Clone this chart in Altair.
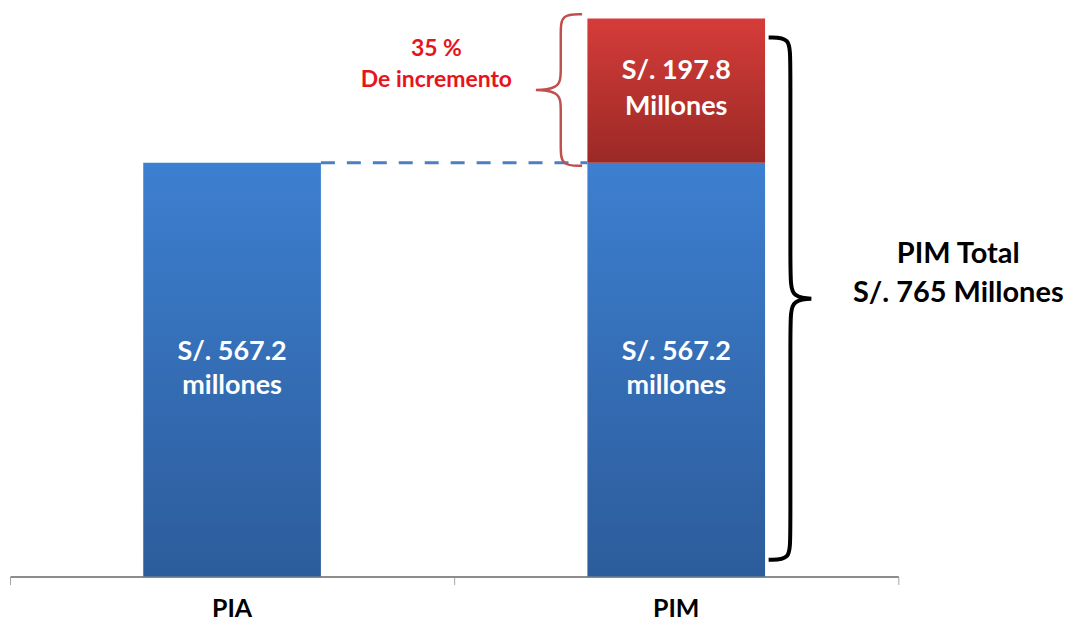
import altair as alt
import pandas as pd

# ---- data ----
categories = ["PIA", "PIM"]
base_values = [567.2, 567.2]
increase_values = [0.0, 197.8]
base_labels = ["S/. 567.2\nmillones", "S/. 567.2\nmillones"]
increase_labels = ["", "S/. 197.8\nMillones"]
increase_note = "35 %\nDe incremento"
total_note = "PIM Total\nS/. 765 Millones"

FONT = "Lato"
BLUE_TOP, BLUE_BOT = "#3d7fd0", "#2c5c9b"
RED_TOP, RED_BOT = "#d53c39", "#9b2926"

total = base_values[1] + increase_values[1]
pos = list(range(len(categories)))
half = 0.2

base_df = pd.DataFrame({
    "cat": categories, "pos": pos,
    "x1": [p - half for p in pos], "x2": [p + half for p in pos],
    "start": [0.0] * len(categories), "end": base_values,
    "mid": [v / 2 for v in base_values], "label": base_labels,
})
inc_df = pd.DataFrame({
    "cat": categories, "pos": pos,
    "x1": [p - half for p in pos], "x2": [p + half for p in pos],
    "start": base_values,
    "end": [b + i for b, i in zip(base_values, increase_values)],
    "mid": [b + i / 2 for b, i in zip(base_values, increase_values)],
    "label": increase_labels,
})
inc_df = inc_df[inc_df["end"] > inc_df["start"]]

xscale = alt.Scale(domain=[-0.5, 1.5], nice=False, zero=False)
yscale = alt.Scale(domain=[0, total], nice=False, zero=True)

X = alt.X("x1:Q", scale=xscale,
          axis=alt.Axis(values=[-0.5, 0.5, 1.5], labels=False, title=None, grid=False,
                        domainColor="#8c8c8c", domainWidth=2, tickColor="#a6a6a6",
                        tickWidth=1, tickSize=8))
Y = alt.Y("start:Q", scale=yscale, axis=None)


def grad(top, bot):
    return alt.Gradient(gradient="linear", x1=0, x2=0, y1=0, y2=1,
                        stops=[alt.GradientStop(offset=0, color=top),
                               alt.GradientStop(offset=1, color=bot)])


base_bars = alt.Chart(base_df).mark_bar(color=grad(BLUE_TOP, BLUE_BOT)).encode(
    x=X, x2="x2:Q", y=Y, y2="end:Q")
inc_bars = alt.Chart(inc_df).mark_bar(color=grad(RED_TOP, RED_BOT)).encode(
    x=alt.X("x1:Q", scale=xscale), x2="x2:Q", y=alt.Y("start:Q", scale=yscale), y2="end:Q")

base_text = alt.Chart(base_df).mark_text(
    color="white", font=FONT, fontWeight="bold", fontSize=27, lineBreak="\n",
    lineHeight=34, baseline="middle", align="center", dy=-18).encode(
    x=alt.X("pos:Q", scale=xscale), y=alt.Y("mid:Q", scale=yscale), text="label:N")
inc_text = alt.Chart(inc_df).mark_text(
    color="white", font=FONT, fontWeight="bold", fontSize=27, lineBreak="\n",
    lineHeight=36, baseline="middle", align="center", dy=-20).encode(
    x=alt.X("pos:Q", scale=xscale), y=alt.Y("mid:Q", scale=yscale), text="label:N")

cat_df = pd.DataFrame({"pos": pos, "cat": categories, "zero": [0.0] * len(pos)})
cat_text = alt.Chart(cat_df).mark_text(
    color="black", font=FONT, fontWeight="bold", fontSize=25, dy=41,
    baseline="alphabetic", align="center").encode(
    x=alt.X("pos:Q", scale=xscale), y=alt.Y("zero:Q", scale=yscale), text="cat:N")

# dashed connector from PIA top to PIM base top
conn_df = pd.DataFrame({"xa": [pos[0] + half], "xb": [pos[1] - half], "y": [base_values[0]]})
connector = alt.Chart(conn_df).mark_rule(
    color="#4a7fc3", strokeWidth=3, strokeDash=[14, 12]).encode(
    x=alt.X("xa:Q", scale=xscale), x2="xb:Q", y=alt.Y("y:Q", scale=yscale))


def brace(x_end, x_mid, x_tip, y_top, y_bot, r):
    ym = (y_top + y_bot) / 2
    pts = [(x_end, y_top), (x_mid, y_top), (x_mid, y_top - r), (x_mid, ym + r),
           (x_mid, ym), (x_tip, ym), (x_mid, ym), (x_mid, ym - r),
           (x_mid, y_bot + r), (x_mid, y_bot), (x_end, y_bot)]
    return pd.DataFrame({"i": range(len(pts)), "bx": [p[0] for p in pts],
                         "by": [p[1] for p in pts]})


red_brace_df = brace(0.788, 0.740, 0.656, total + 6, base_values[1] - 4, 26)
black_brace_df = brace(1.208, 1.257, 1.328, total - 26, 23, 30)

red_brace = alt.Chart(red_brace_df).mark_line(
    color="#c0504d", strokeWidth=2.5, interpolate="basis").encode(
    x=alt.X("bx:Q", scale=xscale), y=alt.Y("by:Q", scale=yscale), order="i:Q")
black_brace = alt.Chart(black_brace_df).mark_line(
    color="black", strokeWidth=4, interpolate="basis").encode(
    x=alt.X("bx:Q", scale=xscale), y=alt.Y("by:Q", scale=yscale), order="i:Q")

note_df = pd.DataFrame({"x": [0.46], "y": [702.0], "t": [increase_note]})
note = alt.Chart(note_df).mark_text(
    color="#e8141b", font=FONT, fontWeight="bold", fontSize=23, lineBreak="\n",
    lineHeight=32, baseline="middle", align="center", dy=-16).encode(
    x=alt.X("x:Q", scale=xscale), y=alt.Y("y:Q", scale=yscale), text="t:N")

tot_df = pd.DataFrame({"x": [1.635], "y": [416.0], "t": [total_note]})
tot = alt.Chart(tot_df).mark_text(
    color="black", font=FONT, fontWeight="bold", fontSize=29, lineBreak="\n",
    lineHeight=39, baseline="middle", align="center", dy=-19).encode(
    x=alt.X("x:Q", scale=xscale), y=alt.Y("y:Q", scale=yscale), text="t:N")

chart = alt.layer(
    base_bars, inc_bars, connector, red_brace, black_brace,
    base_text, inc_text, cat_text, note, tot
).properties(
    width=890, height=559,
    autosize=alt.AutoSizeParams(type="none"),
    padding={"left": 2, "top": 10, "right": 169, "bottom": 50},
    background="white",
).configure_view(stroke=None)

chart.save("out.html", embed_options={"renderer": "svg", "actions": False})
